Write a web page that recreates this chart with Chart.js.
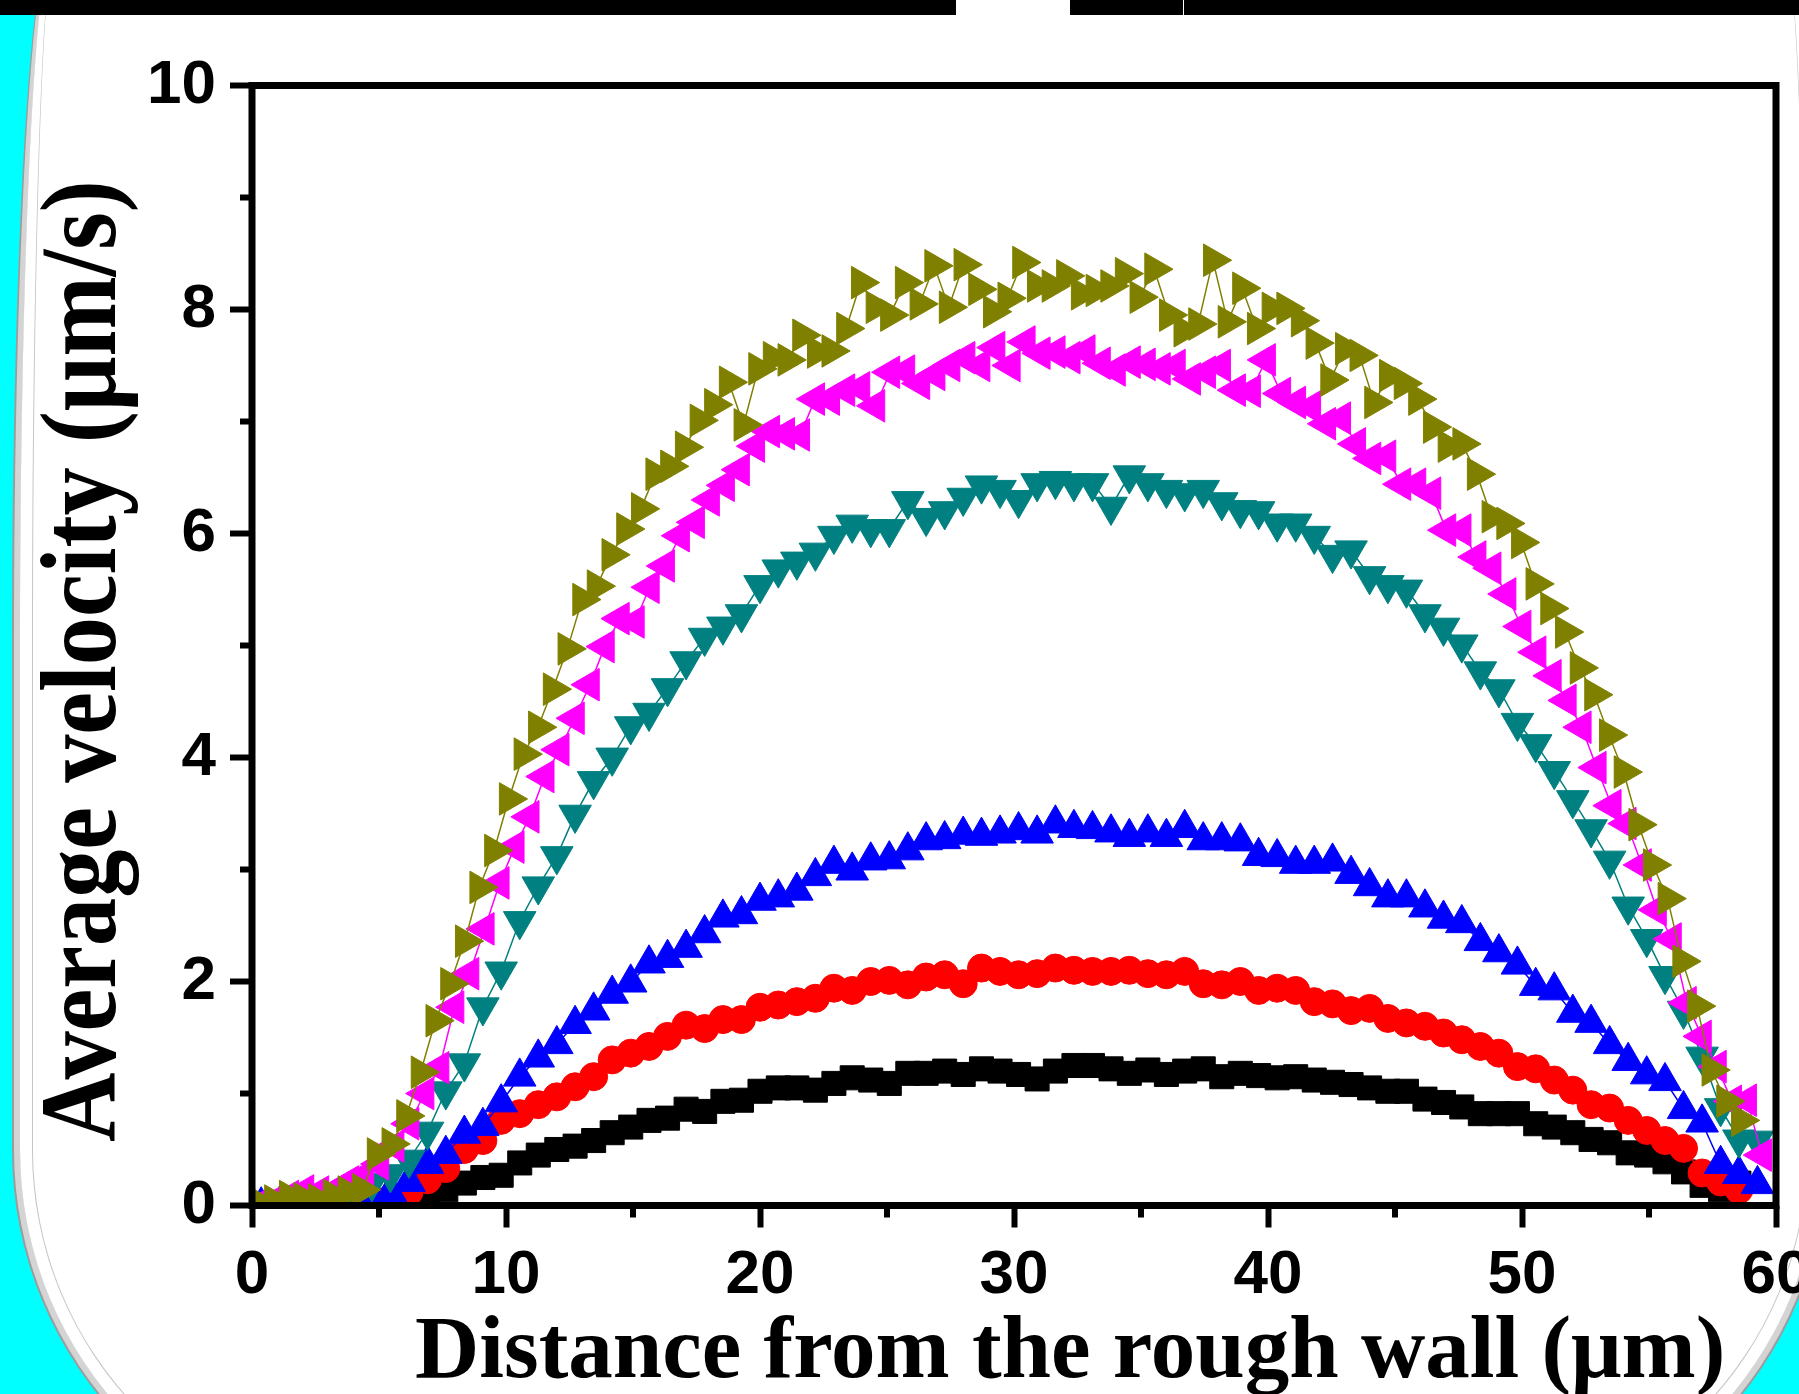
<!DOCTYPE html>
<html>
<head>
<meta charset="utf-8">
<title>Average velocity profiles</title>
<script src="https://cdn.jsdelivr.net/npm/chart.js@4.4.1/dist/chart.umd.min.js"></script>
<style>
  html, body { margin: 0; padding: 0; width: 1799px; height: 1394px; overflow: hidden; background: #00ffff; }
  #panel {
    position: absolute; left: 14px; top: -60px; width: 1812px; height: 1600px;
    box-sizing: border-box; background: #fff;
    border: 6px solid #d4d4d4;
    border-radius: 40px 40px 390px 390px / 700px 700px 390px 390px;
    box-shadow: 0 0 0 2px #9c9c9c, inset 0 0 0 12px #fff, inset 0 0 0 13px #c4c4c4;
  }
  .bar { position: absolute; top: 0; height: 15px; background: #000; }
  #wrap { position: absolute; left: 0; top: 0; width: 1840px; height: 1394px; }
</style>
</head>
<body>
<div id="panel"></div>
<div class="bar" style="left:0;width:956px"></div>
<div class="bar" style="left:1070px;width:113px"></div>
<div class="bar" style="left:1184px;width:615px"></div>
<div id="wrap"><canvas id="velocityChart" width="1840" height="1394"></canvas></div>

<script>
// ---- data ----
const X_TITLE = 'Distance from the rough wall (\u03bcm)';
const Y_TITLE = 'Average velocity (\u03bcm/s)';
const X_TICKS = [0, 10, 20, 30, 40, 50, 60];
const Y_TICKS = [0, 2, 4, 6, 8, 10];
const X_MINOR = [5, 15, 25, 35, 45, 55];
const Y_MINOR = [1, 3, 5, 7, 9];

// bin centres (um) for the black / red / blue / teal series
const X_A = [0.36, 1.09, 1.81, 2.54, 3.27, 4.00, 4.72, 5.45, 6.18, 6.91,
  7.63, 8.36, 9.09, 9.81, 10.54, 11.27, 12.00, 12.72, 13.45, 14.18,
  14.91, 15.63, 16.36, 17.09, 17.82, 18.54, 19.27, 20.00, 20.72, 21.45,
  22.18, 22.91, 23.63, 24.36, 25.09, 25.82, 26.54, 27.27, 28.00, 28.72,
  29.45, 30.18, 30.91, 31.63, 32.36, 33.09, 33.82, 34.54, 35.27, 36.00,
  36.72, 37.45, 38.18, 38.91, 39.63, 40.36, 41.09, 41.82, 42.54, 43.27,
  44.00, 44.72, 45.45, 46.18, 46.91, 47.63, 48.36, 49.09, 49.82, 50.54,
  51.27, 52.00, 52.72, 53.45, 54.18, 54.91, 55.63, 56.36, 57.09, 57.82,
  58.54, 59.27];

// bin centres for the magenta series
const X_M = [0.28, 0.87, 1.46, 2.06, 2.65, 3.24, 3.83, 4.42, 5.01, 5.61,
  6.20, 6.79, 7.38, 7.97, 8.56, 9.16, 9.75, 10.34, 10.93, 11.52,
  12.11, 12.71, 13.30, 13.89, 14.48, 15.07, 15.66, 16.26, 16.85, 17.44,
  18.03, 18.62, 19.21, 19.81, 20.40, 20.99, 21.58, 22.17, 22.76, 23.36,
  23.95, 24.54, 25.13, 25.72, 26.31, 26.91, 27.50, 28.09, 28.68, 29.27,
  29.87, 30.46, 31.05, 31.64, 32.23, 32.82, 33.42, 34.01, 34.60, 35.19,
  35.78, 36.37, 36.97, 37.56, 38.15, 38.74, 39.33, 39.92, 40.52, 41.11,
  41.70, 42.29, 42.88, 43.47, 44.07, 44.66, 45.25, 45.84, 46.43, 47.02,
  47.62, 48.21, 48.80, 49.39, 49.98, 50.57, 51.17, 51.76, 52.35, 52.94,
  53.53, 54.12, 54.72, 55.31, 55.90, 56.49, 57.08, 57.67, 58.27, 58.86,
  59.45];

// bin centres for the olive series
const X_O = [0.29, 0.87, 1.45, 2.02, 2.60, 3.18, 3.76, 4.33, 4.91, 5.49,
  6.07, 6.64, 7.22, 7.80, 8.38, 8.95, 9.53, 10.11, 10.69, 11.26,
  11.84, 12.42, 13.00, 13.57, 14.15, 14.73, 15.31, 15.88, 16.46, 17.04,
  17.62, 18.19, 18.77, 19.35, 19.93, 20.50, 21.08, 21.66, 22.24, 22.81,
  23.39, 23.97, 24.55, 25.12, 25.70, 26.28, 26.86, 27.43, 28.01, 28.59,
  29.17, 29.74, 30.32, 30.90, 31.48, 32.05, 32.63, 33.21, 33.79, 34.36,
  34.94, 35.52, 36.10, 36.67, 37.25, 37.83, 38.41, 38.98, 39.56, 40.14,
  40.72, 41.29, 41.87, 42.45, 43.03, 43.60, 44.18, 44.76, 45.34, 45.91,
  46.49, 47.07, 47.65, 48.22, 48.80, 49.38, 49.96, 50.53, 51.11, 51.69,
  52.27, 52.84, 53.42, 54.00, 54.58, 55.15, 55.73, 56.31, 56.89, 57.46,
  58.04, 58.62];

const BLACK = [0.00, 0.01, 0.02, 0.02, 0.03, 0.03, 0.04, 0.04, 0.06, 0.10,
  0.14, 0.20, 0.25, 0.27, 0.38, 0.45, 0.50, 0.53, 0.58, 0.65,
  0.70, 0.76, 0.78, 0.86, 0.84, 0.93, 0.94, 1.02, 1.05, 1.05,
  1.03, 1.09, 1.14, 1.12, 1.09, 1.18, 1.18, 1.20, 1.17, 1.22,
  1.20, 1.17, 1.13, 1.20, 1.25, 1.25, 1.22, 1.18, 1.21, 1.17,
  1.20, 1.22, 1.15, 1.18, 1.16, 1.14, 1.15, 1.12, 1.10, 1.08,
  1.05, 1.02, 1.02, 0.95, 0.92, 0.88, 0.82, 0.82, 0.82, 0.73,
  0.70, 0.65, 0.59, 0.56, 0.47, 0.45, 0.39, 0.30, 0.18, 0.14,
  0.20];

const RED = [0.00, 0.00, 0.01, 0.01, 0.02, 0.02, 0.03, 0.06, 0.12, 0.23,
  0.33, 0.50, 0.58, 0.76, 0.82, 0.90, 0.97, 1.06, 1.15, 1.30,
  1.36, 1.42, 1.51, 1.61, 1.58, 1.66, 1.66, 1.77, 1.79, 1.82,
  1.85, 1.94, 1.92, 2.00, 2.01, 1.97, 2.04, 2.06, 1.98, 2.12,
  2.09, 2.06, 2.07, 2.12, 2.10, 2.09, 2.09, 2.10, 2.07, 2.06,
  2.09, 1.98, 1.97, 2.00, 1.92, 1.94, 1.92, 1.82, 1.80, 1.74,
  1.76, 1.67, 1.63, 1.60, 1.54, 1.48, 1.42, 1.36, 1.24, 1.22,
  1.12, 1.03, 0.90, 0.87, 0.76, 0.67, 0.58, 0.51, 0.29, 0.21,
  0.14];

const BLUE = [0.00, 0.01, 0.02, 0.03, 0.05, 0.06, 0.08, 0.12, 0.21, 0.37,
  0.46, 0.64, 0.71, 0.92, 1.15, 1.32, 1.44, 1.62, 1.74, 1.89,
  1.99, 2.16, 2.21, 2.30, 2.43, 2.57, 2.60, 2.72, 2.75, 2.81,
  2.94, 3.05, 2.99, 3.08, 3.09, 3.17, 3.26, 3.27, 3.31, 3.30,
  3.32, 3.35, 3.32, 3.41, 3.37, 3.36, 3.33, 3.29, 3.33, 3.29,
  3.37, 3.26, 3.26, 3.25, 3.12, 3.11, 3.05, 3.05, 3.07, 2.96,
  2.85, 2.75, 2.75, 2.66, 2.56, 2.52, 2.36, 2.26, 2.15, 1.96,
  1.92, 1.72, 1.63, 1.44, 1.29, 1.17, 1.11, 0.86, 0.74, 0.37,
  0.28, 0.19];

const TEAL = [0.00, 0.01, 0.03, 0.06, 0.09, 0.12, 0.20, 0.28, 0.41, 0.66,
  1.02, 1.27, 1.77, 2.09, 2.54, 2.85, 3.12, 3.49, 3.79, 4.00,
  4.28, 4.40, 4.62, 4.86, 5.07, 5.17, 5.28, 5.54, 5.68, 5.75,
  5.83, 5.98, 6.08, 6.04, 6.04, 6.29, 6.14, 6.20, 6.32, 6.43,
  6.39, 6.30, 6.45, 6.47, 6.45, 6.45, 6.24, 6.52, 6.45, 6.39,
  6.36, 6.39, 6.28, 6.21, 6.20, 6.09, 6.09, 5.98, 5.81, 5.85,
  5.62, 5.54, 5.50, 5.28, 5.16, 5.01, 4.77, 4.61, 4.31, 4.12,
  3.88, 3.62, 3.36, 3.08, 2.67, 2.38, 2.05, 1.74, 1.33, 0.87,
  0.59, 0.58];

const MAGENTA = [0.01, 0.04, 0.08, 0.13, 0.12, 0.13, 0.21, 0.27, 0.37, 0.53,
  0.73, 1.00, 1.23, 1.77, 2.07, 2.47, 2.88, 3.20, 3.47, 3.83,
  4.07, 4.35, 4.65, 4.99, 5.24, 5.21, 5.52, 5.71, 5.98, 6.10,
  6.30, 6.43, 6.57, 6.78, 6.91, 6.89, 6.88, 7.20, 7.20, 7.28,
  7.30, 7.14, 7.44, 7.45, 7.34, 7.42, 7.50, 7.57, 7.50, 7.66,
  7.50, 7.71, 7.61, 7.62, 7.57, 7.63, 7.52, 7.46, 7.53, 7.51,
  7.47, 7.50, 7.38, 7.44, 7.50, 7.28, 7.27, 7.55, 7.25, 7.17,
  7.13, 6.98, 7.03, 6.80, 6.67, 6.69, 6.44, 6.44, 6.36, 6.03,
  6.03, 5.79, 5.69, 5.46, 5.17, 4.94, 4.73, 4.51, 4.27, 3.91,
  3.57, 3.41, 3.04, 2.64, 2.38, 1.81, 1.51, 1.24, 0.93, 0.94,
  0.45];

const OLIVE = [0.02, 0.04, 0.08, 0.06, 0.05, 0.09, 0.12, 0.14, 0.46, 0.55,
  0.80, 1.19, 1.65, 1.98, 2.36, 2.84, 3.17, 3.63, 4.03, 4.27,
  4.61, 4.97, 5.41, 5.53, 5.81, 6.04, 6.22, 6.53, 6.60, 6.77,
  7.01, 7.15, 7.35, 6.97, 7.47, 7.57, 7.55, 7.77, 7.62, 7.63,
  7.83, 8.24, 8.02, 7.95, 8.24, 8.05, 8.39, 8.02, 8.40, 8.18,
  7.98, 8.10, 8.42, 8.21, 8.21, 8.30, 8.14, 8.17, 8.21, 8.32,
  8.11, 8.36, 7.95, 7.81, 7.87, 8.44, 7.89, 8.19, 7.83, 8.01,
  8.01, 7.90, 7.70, 7.37, 7.65, 7.59, 7.17, 7.41, 7.34, 7.20,
  6.95, 6.78, 6.80, 6.53, 6.15, 6.09, 5.92, 5.55, 5.33, 5.12,
  4.80, 4.56, 4.20, 3.87, 3.40, 3.04, 2.74, 2.18, 1.78, 1.21,
  0.93, 0.76];

function pts(xs, ys) {
  return ys.map((y, i) => ({ x: xs[i], y: y }));
}

function series(label, xs, ys, color, style, radius, rotation, order) {
  return {
    label: label,
    data: pts(xs, ys),
    borderColor: color,
    backgroundColor: color,
    borderWidth: 1.5,
    pointStyle: style,
    pointRadius: radius,
    pointRotation: rotation,
    pointBackgroundColor: color,
    pointBorderColor: color,
    pointBorderWidth: 1,
    tension: 0,
    order: order,
    clip: { left: 0, top: 10, right: 0, bottom: 0 }
  };
}

// frame, minor ticks and axis titles
const frameAndTitles = {
  id: 'frameAndTitles',
  afterDatasetsDraw(chart) {
    const { ctx, chartArea: a, scales } = chart;
    ctx.save();
    ctx.strokeStyle = '#000';
    ctx.lineWidth = 7;
    ctx.strokeRect(a.left, a.top, a.right - a.left, a.bottom - a.top);
    ctx.lineWidth = 6;
    ctx.beginPath();
    X_MINOR.forEach(v => {
      const px = scales.x.getPixelForValue(v);
      ctx.moveTo(px, a.bottom);
      ctx.lineTo(px, a.bottom + 12);
    });
    Y_MINOR.forEach(v => {
      const py = scales.y.getPixelForValue(v);
      ctx.moveTo(a.left, py);
      ctx.lineTo(a.left - 12, py);
    });
    ctx.stroke();
    ctx.restore();
  },
  afterDraw(chart) {
    const ctx = chart.ctx;
    ctx.save();
    ctx.fillStyle = '#000';
    ctx.textAlign = 'left';
    ctx.textBaseline = 'alphabetic';
    ctx.font = 'bold 89px "Liberation Serif", "Times New Roman", serif';
    ctx.fillText(X_TITLE, 415, 1377);
    ctx.translate(115, 1142);
    ctx.rotate(-Math.PI / 2);
    ctx.scale(0.9, 1);
    ctx.font = 'bold 107px "Liberation Serif", "Times New Roman", serif';
    ctx.fillText(Y_TITLE, 0, 0);
    ctx.restore();
  }
};

const tickFont = { family: '"Liberation Sans", Arial, sans-serif', size: 62, weight: 'bold' };

new Chart(document.getElementById('velocityChart'), {
  type: 'line',
  data: {
    datasets: [
      series('Olive', X_O, OLIVE, '#808000', 'triangle', 18.8, 90, 1),
      series('Magenta', X_M, MAGENTA, '#ff00ff', 'triangle', 18.8, 270, 2),
      series('Teal', X_A, TEAL, '#008080', 'triangle', 18.8, 180, 3),
      series('Blue', X_A, BLUE, '#0000ff', 'triangle', 18.8, 0, 4),
      series('Red', X_A, RED, '#ff0000', 'circle', 14, 0, 5),
      series('Black', X_A, BLACK, '#000000', 'rect', 17, 0, 6)
    ]
  },
  options: {
    responsive: false,
    animation: false,
    devicePixelRatio: 1,
    layout: { padding: { left: 0, top: 85.5, right: 64, bottom: 0 } },
    plugins: { legend: { display: false }, tooltip: { enabled: false } },
    scales: {
      x: {
        type: 'linear',
        min: 0,
        max: 60,
        afterBuildTicks: s => { s.ticks = X_TICKS.map(v => ({ value: v })); },
        afterFit: s => { s.height = 1394 - 1205.5; },
        border: { display: false },
        grid: { drawOnChartArea: false, drawTicks: true, tickLength: 22, tickWidth: 6, tickColor: '#000' },
        ticks: { color: '#000', font: tickFont, padding: 11, maxRotation: 0, autoSkip: false }
      },
      y: {
        type: 'linear',
        min: 0,
        max: 10,
        afterBuildTicks: s => { s.ticks = Y_TICKS.map(v => ({ value: v })); },
        afterFit: s => { s.width = 252; },
        border: { display: false },
        grid: { drawOnChartArea: false, drawTicks: true, tickLength: 22, tickWidth: 6, tickColor: '#000' },
        ticks: { color: '#000', font: tickFont, padding: 14, autoSkip: false }
      }
    }
  },
  plugins: [frameAndTitles]
});
</script>
</body>
</html>
